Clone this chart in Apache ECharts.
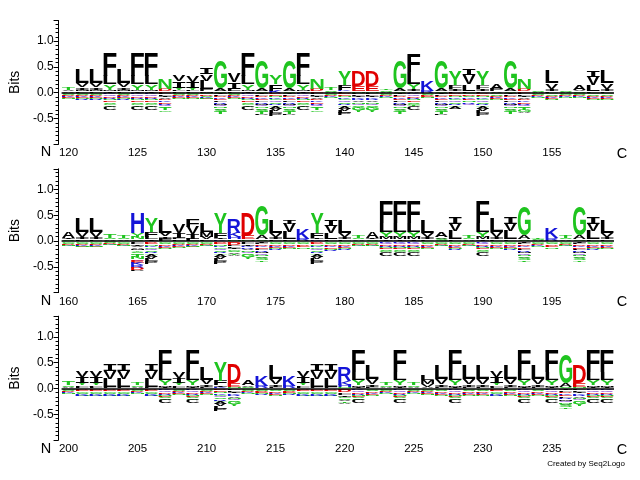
<!DOCTYPE html>
<html><head><meta charset="utf-8">
<script src="https://cdn.jsdelivr.net/npm/echarts@6/dist/echarts.min.js"></script>
<style>html,body{margin:0;padding:0;background:#fff}#c{width:640px;height:480px}</style>
</head><body><div id="c"></div>
<script>
// ---------- DATA (letter + height in hundredths of a bit; positive stacks bottom->top, negative stacks zero->down) ----------
const cats1 = ['120','121','122','123','124','125','126','127','128','129','130','131','132','133','134','135','136','137','138','139','140','141','142','143','144','145','146','147','148','149','150','151','152','153','154','155','156','157','158','159'];
const cats2 = ['160','161','162','163','164','165','166','167','168','169','170','171','172','173','174','175','176','177','178','179','180','181','182','183','184','185','186','187','188','189','190','191','192','193','194','195','196','197','198','199'];
const cats3 = ['200','201','202','203','204','205','206','207','208','209','210','211','212','213','214','215','216','217','218','219','220','221','222','223','224','225','226','227','228','229','230','231','232','233','234','235','236','237','238','239'];

const pos1 = ["A3 V3 T6","F3 M3 I5 V7 L26","F3 M3 I5 V7 L26","I3 M3 Y10 L16 F44","F3 M3 I5 V7 L26","I3 M3 Y10 L16 F44","I3 M3 Y10 L16 F44","E3 D4 N21","L3 F3 Y4 I12 V12","L3 F3 Y4 I11 V12",
"M3 F4 L16 V13 I11","S3 A6 G54","F3 L5 I12 V17","I3 M3 Y10 L16 F44","S3 A6 G54","K4 F12 Y18","S3 A6 G54","I3 M3 Y10 L16 F44","E3 D4 N21","A2 S3 T4",
"L3 K3 F9 Y28","N3 E10 D30","N3 E10 D30","A2 S3 T3","S3 A6 G54","A3 I5 Y9 L22 F36","R4 K19","S3 A6 G54","L3 I4 F8 Y28","F3 L13 V18 I12",
"L3 I4 F8 Y28","V3 F5 A9","S3 A6 G53","E3 D4 N20","A2 S3","F3 I5 V10 L25","A2 S2","S3 V3 A11","F3 L12 V16 I13","F3 I5 V10 L25"];
const neg1 = ["G3 S2 D2 K2 E2 N2","G3 S2 D2 K2 E2 N2 R1","G3 S2 D2 K2 E2 N2 R1","K3 Q4 D3 R2 N3 E3 S3 G3 T3 C7","G3 S2 D2 K2 E2 N2 R1","K3 Q4 D3 R2 N3 E3 S3 G3 T3 C7","K3 Q4 D3 R2 N3 E3 S3 G3 T3 C7","L3 F3 I3 V3 D3 K3 E3 R3 Q3 S3 T4 G3","G3 S2 D2 K2 E2 N2","G3 S2 D2 K2 E2 N2",
"G3 D3 S2 K2 E2 N1","I3 L3 D3 K3 E3 F3 R3 M3 Q3 N3 V3 S4 T4","G3 S2 D2 K2 E2 N2","K3 Q4 D3 R2 N3 E3 S3 G3 T3 C7","I3 L3 D3 K3 E3 F3 R3 M3 Q3 N3 V3 S4 T4 P2","D3 E3 N3 K3 G3 Q3 S3 R3 T3 A4 V4 L5 P6","I3 L3 D3 K3 E3 F3 R3 M3 Q3 N3 V3 S4 T4 P2","K3 Q4 D3 R2 N3 E3 S3 G3 T3 C7","L3 F3 I3 V3 D3 K3 E3 R3 Q3 S3 T4 G3","G3 S2 D2 K2 N1",
"D3 E3 N3 K3 G3 Q3 S3 R3 T3 A4 V4 L4 P5","F3 L3 I3 K3 R3 V3 N3 Q3 S3 T3 G4 Y4","F3 L3 I3 K3 R3 V3 N3 Q3 S3 T3 G4 Y4","G3 S2 D2 K2 N1","I3 L3 D3 K3 E3 F3 R3 M3 Q3 N3 V3 S4 T4","K3 Q4 D3 R2 N3 E3 S3 G3 T2 C7","G3 S2 D2 E2 N1","I3 L3 D3 K3 E3 F3 R3 M3 Q3 N3 V3 S4 T4 P2","D3 E3 N3 K3 G3 Q3 S3 R3 T3 A4","G3 D3 S3 K3 E3 N3 R3 Q3",
"D3 E3 N3 K3 G3 Q3 S3 R3 T3 A4 V4 L4 P6","G3 S3 D3 K2 E2 N2","I3 L3 D3 K3 E3 F3 R3 M3 Q3 N3 V3 S4 T4","L3 F3 I3 V3 D3 K3 E3 R3 Q3 S3 T4 G4 A2","G3 S2 D2 K2 N1","G3 S3 D3 K2 E2 N2","G3 S2 D2 K2 N1","G3 S2 D2 K2 N1","G3 S3 D3 K2 E2 N2","G3 S3 D3 K2 E2 N2"];

const pos2 = ["S3 I3 A12","F3 I5 V10 L26","F3 I5 V10 L26","A3 S3 T7","A3 S3 T6","S3 N4 Y8 H39","I3 L4 F10 Y27","F4 I5 V7 L25","L3 F3 I10 V18","L4 I9 V14 F16",
"F3 V4 M10 L17","K3 I3 F10 Y39","N3 H4 K9 R28","N3 E7 D45","S3 A7 G58","F3 I5 V8 L25","F3 L14 V16 I8","R4 K21","K3 I3 F10 Y39","F3 L13 V14 I11",
"F3 I5 V8 L25","A3 S3 T6","S3 I3 A12","I3 M4 Y10 L17 F42","I3 M4 Y10 L17 F42","I3 M4 Y10 L17 F42","F3 I5 V8 L25","S4 V3 A11","F3 L16 V14 I14","A3 S3 T6",
"I3 M4 Y10 L17 F42","F3 I5 V10 L26","F3 L16 V14 I14","S3 A7 G56","A2 S2 T3","R5 K20","A3 S3 T4","S3 A7 G56","F3 L16 V14 I14","F3 I5 V8 L25"];
const neg2 = ["G3 S2 D2 K2 N1","G3 S2 D2 K2 E2 N1","G3 S2 D2 K2 E2 N1","G2 S2 D2 K1 N1","G3 S2 D2 K2 N1","F3 L3 I3 V3 A3 M3 Y3 S3 G3 T4 N4 Q4 E4 K4 R5 D5 P2","D3 E3 N3 K3 G3 Q3 S3 R3 T3 A4 V4 L4 P6","G3 S3 D3 K2 E2 N2","G3 S2 D2 K2 E2 N2","G3 S2 D2 K2 E2 N1",
"G3 S2 D2 K2 N1","D3 E3 N3 K3 G3 Q3 S3 R3 T3 A4 V4 L4 P6","E3 D4 F3 L3 I3 G3 S3 V3 T3 A2","F3 L3 I3 K3 R3 V3 N3 Q3 S3 G4 Y4","I3 L3 D3 K3 E3 F3 R3 M3 Q3 N3 V3 S4 T3","G3 S3 D3 K2 E2 N2 R2","G3 S3 D3 K2 E2 N2","G3 S3 D3 E3 N3","D3 E3 N3 K3 G3 Q3 S3 R3 T3 A4 V4 L4 P6","G3 S3 D3 K3 E3 N3 R2",
"G3 S3 D3 K2 E2 N2 R2","G3 S2 D2 K2 N1","G3 S2 D2 K2 N1","K3 Q4 D3 R2 N2 E2 S3 G3 C7","K3 Q4 D3 R2 N2 E2 S3 G3 C7","K3 Q4 D3 R2 N2 E2 S3 G3 C7","G3 S3 D3 K2 E2 N2","G3 S2 D2 K2 N1","G3 S3 D3 K2 E2 N2 R2","G3 S2 D2 K2 N1",
"K3 Q4 D3 R2 N2 E2 S3 G3 C7","G3 S3 D3 K2 E2 N2","G3 S3 D3 K2 E2 N2 R2","I3 L3 D3 K3 E3 F3 R3 M3 Q3 N3 V3 S4 T3","G3 S3 D2 K2 N2","G3 S3 D3 E3 N3","G3 S2 D2 K2 N1","I3 L3 D3 K3 E3 F3 R3 M3 Q3 N3 V3 S4 T3","G3 S3 D3 K2 E2 N2 R2","G3 S3 D3 K2 E2 N2"];

const pos3 = ["A3 S3 T7","L3 F3 Y4 I12 V13","L3 F3 Y4 I12 V13","F3 L16 V15 I14","F3 L16 V15 I14","A3 S3 T4","F3 L16 V15 I14","I3 M3 Y10 L15 F43","L3 F3 Y4 I10 V12","I3 M3 Y10 L15 F43",
"F3 I5 V9 L25","K3 I3 F9 Y37","N3 E8 D37","S3 V3 A11","R4 K19","F3 I5 V10 L27","R4 K19","L3 F3 Y4 I12 V13","F3 L16 V15 I14","F3 L16 V15 I14",
"N3 H4 K7 R26","I3 M3 Y10 L15 F43","F3 I5 V10 L27","A3 S3 T4","I3 M3 Y10 L15 F43","A3 S3 T4","A3 V5 M8 L10","F3 I5 V10 L27","I3 M3 Y10 L15 F43","F3 I5 V10 L27",
"F3 I5 V10 L27","L3 F3 Y4 I12 V13","F3 I5 V10 L27","I3 M3 Y10 L15 F43","F3 I5 V10 L27","I3 M3 Y10 L15 F43","S3 A7 G55","N3 E8 D34","I3 M3 Y10 L15 F43","I3 M3 Y10 L15 F43"];
const neg3 = ["G3 S2 D2 K2 N1","D3 E2 G3 S2 K2 N2 R1","D3 E2 G3 S2 K2 N2 R1","D3 E2 G3 S2 K2 N2 R1","D3 E2 G3 S2 K2 N2 R1","G3 S2 D2 K2 N1","D3 E2 G3 S2 K2 N2 R1","K3 Q4 D3 R2 N2 E2 S3 G3 C7","G3 S2 D2 K2 E2 N2","K3 Q4 D3 R2 N2 E2 S3 G3 C7",
"G3 S2 D2 K2 E2 N2","D3 E3 N3 K3 G3 Q3 S3 R3 T3 A4 V4 L4 P5","F3 L3 I3 K3 R3 V3 N3 Q3 S3 G4 Y4","G3 S2 D2 K2 N1","G3 S2 D2 E2 N2 R1","G3 S3 D2 K2 E2 N2","G3 S2 D2 E2 N2 R1","D3 E2 G3 S2 K2 N2 R1","D3 E2 G3 S2 K2 N2 R1","D3 E2 G3 S2 K2 N2 R1",
"E3 D4 F3 L3 I3 G3 S3 V3 T3 A2","K3 Q4 D3 R2 N2 E2 S3 G3 C7","G3 S3 D2 K2 E2 N2","G3 S2 D2 K2 N1","K3 Q4 D3 R2 N2 E2 S3 G3 C7","G3 S2 D2 K2 N1","G3 S2 D2 K2 E2 N1","G3 S3 D2 K2 E2 N2","K3 Q4 D3 R2 N2 E2 S3 G3 C7","G3 S3 D2 K2 E2 N2",
"G3 S3 D2 K2 E2 N2","D3 E2 G3 S2 K2 N2 R1","G3 S3 D2 K2 E2 N2","K3 Q4 D3 R2 N2 E2 S3 G3 C7","G3 S3 D2 K2 E2 N2","K3 Q4 D3 R2 N2 E2 S3 G3 C7","I3 L3 D3 K3 E3 F3 R3 M3 Q3 N3 V3 S4 T3","F3 L3 I3 K3 R3 V3 N3 Q3 S3 G4 Y4","K3 Q4 D3 R2 N2 E2 S3 G3 C7","K3 Q4 D3 R2 N2 E2 S3 G3 C7"];

const yTickLabels = ['-0.5','0.0','0.5','1.0'];

// ---------- STYLE ----------
const GREEN='#1fc41f', RED='#e00000', BLUE='#1414d8', PURPLE='#9a60d8', BLACK='#000000';
const COLORS = {A:BLACK,C:BLACK,F:BLACK,I:BLACK,L:BLACK,M:BLACK,P:BLACK,V:BLACK,W:BLACK,
  G:GREEN,S:GREEN,T:GREEN,Y:GREEN,N:GREEN,Q:PURPLE,D:RED,E:RED,K:BLUE,R:BLUE,H:BLUE};
function fontFor(ch){ return ch==='I' ? 'bold 100px "Liberation Mono"' : 'bold 100px "Liberation Sans"'; }
const mctx = document.createElement('canvas').getContext('2d');
const metrics = {};
function glyph(ch){
  if(!metrics[ch]){
    mctx.font = fontFor(ch); mctx.textBaseline='middle'; mctx.textAlign='left';
    const m = mctx.measureText(ch);
    metrics[ch] = {l:m.actualBoundingBoxLeft, r:m.actualBoundingBoxRight, a:m.actualBoundingBoxAscent, d:m.actualBoundingBoxDescent};
  }
  return metrics[ch];
}
function parse(s){ return s.trim().split(/\s+/).filter(Boolean).map(t=>[t[0], parseInt(t.slice(1),10)/100]); }

function buildSeries(pos, neg, idx){
  const items=[], letters=[];
  pos.forEach((s,i)=>{ let y=0; parse(s).forEach(([ch,h])=>{ items.push([i,y,y+h]); letters.push(ch); y+=h; }); });
  neg.forEach((s,i)=>{ let y=0; parse(s).forEach(([ch,h])=>{ items.push([i,y-h,y]); letters.push(ch); y-=h; }); });
  return {
    type:'custom', xAxisIndex:idx, yAxisIndex:idx, data:items, encode:{x:0,y:[1,2]},
    silent:true, animation:false, clip:false,
    renderItem:function(params, api){
      const ch = letters[params.dataIndex];
      const x = api.value(0), y0 = api.value(1), y1 = api.value(2);
      const pT = api.coord([x,y1]), pB = api.coord([x,y0]);
      const bw = api.size([1,0])[0]*0.94;
      const h = pB[1]-pT[1];
      if(h<=0.1) return null;
      const g = glyph(ch);
      const sx = bw/(g.l+g.r), sy = h/(g.a+g.d);
      const left = pT[0]-bw/2;
      return {type:'text', x:left+g.l*sx, y:pT[1]+g.a*sy, scaleX:sx, scaleY:sy, silent:true,
        style:{text:ch, font:fontFor(ch), fill:COLORS[ch], align:'left', verticalAlign:'middle'}};
    },
    markLine:{silent:true, symbol:'none', animation:false, label:{show:false},
      lineStyle:{color:'#000', width:1.5, type:'solid'}, data:[{yAxis:0}]},
    z:2
  };
}

const tops = [20.5, 168.8, 316.2];
const grids = tops.map(t=>({left:55, width:559, top:t, height:123.8}));
const catsAll = [cats1, cats2, cats3];
const xAxes = catsAll.map((c,i)=>({type:'category', gridIndex:i, data:c, boundaryGap:true,
  axisLine:{show:false}, axisTick:{show:false}, splitLine:{show:false},
  axisLabel:{interval:4, margin:3, fontSize:11.5, color:'#000', fontFamily:'Liberation Sans'}}));
const yAxes = tops.map((t,i)=>({type:'value', gridIndex:i, min:-1, max:1.4, interval:0.5, offset:3,
  name:'Bits', nameLocation:'middle', nameGap:25, nameRotate:90,
  nameTextStyle:{fontSize:14, color:'#000', fontFamily:'Liberation Sans'},
  axisLine:{show:true, lineStyle:{color:'#000', width:1}},
  axisTick:{show:true, inside:false, length:5, lineStyle:{color:'#000'}},
  minorTick:{show:true, splitNumber:6, length:3, lineStyle:{color:'#000'}},
  splitLine:{show:false}, minorSplitLine:{show:false},
  axisLabel:{margin:5, fontSize:12, color:'#000', fontFamily:'Liberation Sans',
    formatter:function(v){ const s=(Math.round(v*10)/10).toFixed(1); return yTickLabels.indexOf(s)>=0 ? s : ''; }}}));

const nY=[152,301,449], cY=[154,302,450];
const graphics = [];
for(let i=0;i<3;i++){
  graphics.push({type:'text', x:46, y:nY[i], style:{text:'N', fontSize:14.5, fontFamily:'Liberation Sans', fill:'#000', align:'center', verticalAlign:'middle'}});
  graphics.push({type:'text', x:622, y:cY[i], style:{text:'C', fontSize:14.5, fontFamily:'Liberation Sans', fill:'#000', align:'center', verticalAlign:'middle'}});
}
graphics.push({type:'text', x:625, y:463.5, style:{text:'Created by Seq2Logo', fontSize:8, fontFamily:'Liberation Sans', fill:'#000', align:'right', verticalAlign:'middle'}});

const chart = echarts.init(document.getElementById('c'), null, {renderer:'canvas'});
chart.setOption({
  backgroundColor:'#fff', animation:false,
  grid:grids, xAxis:xAxes, yAxis:yAxes,
  series:[buildSeries(pos1,neg1,0), buildSeries(pos2,neg2,1), buildSeries(pos3,neg3,2)],
  graphic:graphics
});
</script></body></html>
